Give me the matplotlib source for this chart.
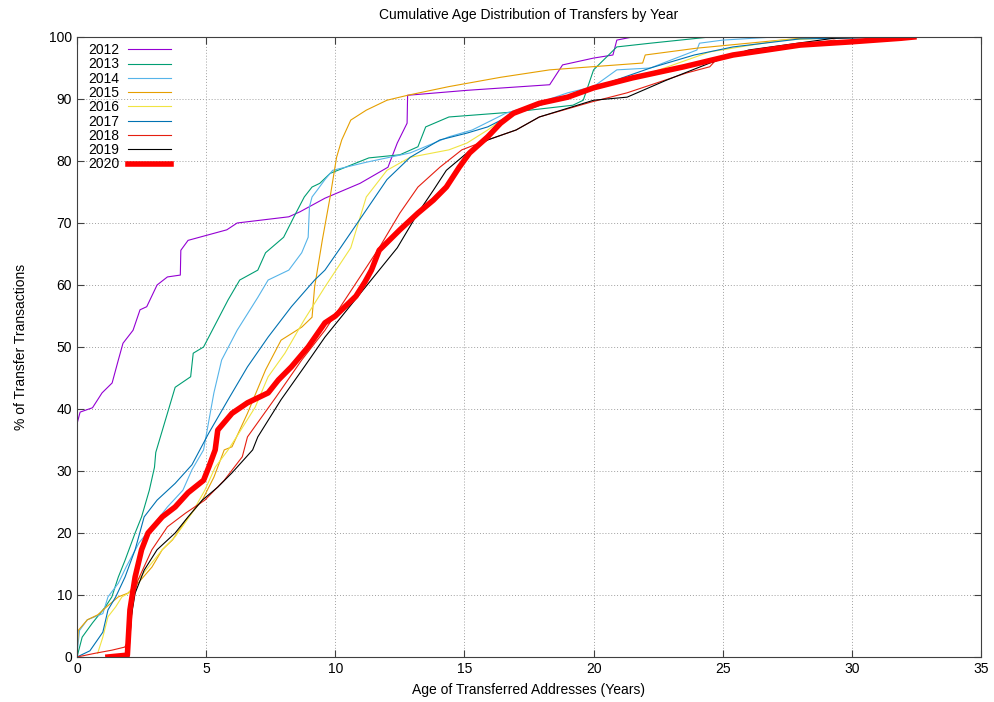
import matplotlib
matplotlib.use('Agg')
import matplotlib.pyplot as plt

plt.rcParams['font.family'] = ['Liberation Sans', 'DejaVu Sans']

# age (years), cumulative % for each year's transfers
x2012 = [0, 0.12, 0.6, 0.97, 1.36, 1.6, 1.78, 2.17, 2.44, 2.7, 3.1, 3.5, 4.0, 4.02, 4.3, 5.8, 6.2, 8.2, 8.63, 9.6, 10.96, 12.04, 12.4, 12.78, 12.8, 15.1, 18.3, 18.8, 20.0, 20.75, 20.9, 21.5]
y2012 = [37.6, 39.5, 40.2, 42.6, 44.2, 47.9, 50.6, 52.7, 56.0, 56.5, 60.0, 61.3, 61.6, 65.6, 67.2, 68.9, 70.0, 71.0, 71.8, 74.0, 76.4, 79.0, 82.9, 86.1, 90.6, 91.4, 92.3, 95.5, 96.6, 97.1, 99.5, 100]

x2013 = [0, 0.2, 0.6, 1.1, 1.35, 1.6, 1.86, 2.25, 2.5, 2.8, 3.0, 3.05, 3.8, 4.4, 4.5, 4.9, 5.3, 5.85, 6.3, 7.0, 7.3, 8.0, 8.4, 8.8, 9.1, 9.4, 9.8, 11.3, 12.5, 13.2, 13.5, 14.4, 16.9, 19.2, 19.6, 20.0, 20.9, 22.2, 24.5]
y2013 = [0, 3.2, 5.5, 8.1, 9.7, 12.9, 15.6, 20.0, 22.6, 26.9, 30.6, 33.0, 43.5, 45.2, 49.0, 50.0, 53.2, 57.6, 60.8, 62.4, 65.2, 67.7, 71.0, 74.2, 75.8, 76.4, 78.0, 80.5, 81.0, 82.3, 85.5, 87.1, 87.9, 89.0, 89.8, 94.7, 98.4, 99.0, 100]

x2014 = [0, 0.1, 0.4, 1.0, 1.2, 1.6, 1.9, 2.4, 2.9, 3.5, 4.1, 4.45, 4.9, 5.3, 5.6, 6.2, 7.0, 7.4, 8.2, 8.7, 8.95, 9.0, 9.1, 9.3, 9.6, 9.9, 11.2, 12.9, 14.4, 15.3, 16.6, 17.4, 19.0, 20.0, 20.9, 22.2, 24.0, 24.1, 25.0, 27.0]
y2014 = [0.5, 4.3, 6.0, 7.0, 9.7, 11.9, 14.5, 18.4, 21.0, 24.2, 26.9, 30.2, 33.4, 42.6, 47.9, 52.7, 58.0, 60.8, 62.4, 65.2, 67.7, 72.6, 74.2, 75.3, 77.0, 78.5, 79.8, 81.3, 83.9, 85.0, 87.7, 88.7, 91.0, 92.0, 94.7, 95.0, 97.9, 99.0, 99.5, 100]

x2015 = [0, 0.05, 0.4, 0.8, 1.15, 1.6, 1.97, 2.36, 2.9, 3.3, 3.7, 4.2, 4.85, 5.3, 5.7, 6.0, 6.6, 7.3, 7.9, 8.7, 9.1, 9.2, 9.5, 9.8, 10.05, 10.25, 10.6, 11.2, 12.0, 12.8, 14.4, 16.4, 18.3, 21.9, 22.0, 24.0, 28.0, 29.5]
y2015 = [0.5, 4.3, 6.0, 6.8, 8.1, 9.7, 10.3, 11.9, 14.5, 17.3, 18.9, 22.0, 25.3, 29.0, 33.4, 33.9, 39.3, 46.3, 51.1, 53.2, 54.8, 59.7, 67.3, 74.2, 80.6, 83.4, 86.6, 88.2, 89.8, 90.6, 92.0, 93.5, 94.7, 95.8, 97.1, 98.2, 99.8, 100]

x2016 = [0.8, 1.0, 1.2, 1.5, 1.74, 2.0, 2.36, 2.9, 3.3, 3.8, 4.45, 4.95, 5.35, 5.85, 6.1, 6.9, 7.4, 8.05, 8.8, 9.6, 10.6, 11.2, 12.0, 12.9, 14.4, 15.1, 15.9, 16.6, 18.3, 19.9, 22.2, 24.5, 27.3, 30.0]
y2016 = [0.6, 3.2, 6.5, 8.1, 9.7, 10.3, 12.4, 15.2, 17.3, 19.4, 23.2, 26.9, 30.6, 33.4, 35.0, 40.3, 45.2, 49.0, 54.4, 59.7, 66.0, 74.2, 78.5, 80.6, 81.8, 82.9, 85.0, 87.1, 89.8, 91.5, 94.2, 97.6, 99.5, 100]

x2017 = [0, 0.5, 1.0, 1.2, 1.5, 1.86, 2.25, 2.6, 3.1, 3.8, 4.45, 5.1, 5.85, 6.6, 7.4, 8.3, 9.2, 9.6, 10.2, 11.2, 12.0, 12.9, 14.05, 15.1, 15.9, 16.8, 18.3, 20.0, 22.2, 23.9, 25.4, 28.0, 32.5]
y2017 = [0, 1.0, 4.0, 7.6, 9.7, 12.9, 17.3, 22.6, 25.3, 28.0, 31.0, 36.1, 41.5, 46.8, 51.6, 56.5, 60.8, 62.4, 66.0, 72.1, 77.0, 80.6, 83.4, 84.5, 85.5, 87.4, 89.5, 91.8, 95.0, 97.1, 98.4, 99.7, 100]

x2018 = [0, 0.7, 1.35, 1.85, 2.05, 2.17, 2.36, 2.9, 3.5, 4.2, 4.95, 5.7, 6.4, 6.6, 7.7, 8.7, 9.6, 11.7, 12.5, 13.2, 14.05, 14.9, 15.9, 17.0, 17.9, 19.9, 21.3, 23.6, 24.5, 24.8, 29.3, 30.0, 32.0]
y2018 = [0, 0.6, 1.1, 1.6, 3.2, 9.2, 12.4, 17.3, 21.0, 23.2, 25.3, 28.5, 32.3, 35.5, 41.9, 47.9, 52.7, 66.0, 71.6, 75.8, 79.0, 81.8, 83.4, 85.0, 87.1, 89.5, 91.0, 94.2, 95.2, 96.6, 99.5, 99.0, 100]

x2019 = [2.0, 2.1, 2.25, 2.6, 3.1, 3.8, 4.3, 4.85, 5.45, 6.0, 6.8, 7.0, 7.9, 8.8, 9.6, 12.4, 13.2, 13.8, 14.3, 15.1, 15.9, 17.0, 17.9, 20.0, 21.3, 22.8, 24.5, 26.0, 29.3, 31.0]
y2019 = [0, 6.5, 10.3, 14.0, 17.3, 20.0, 22.6, 25.3, 27.4, 29.7, 33.4, 35.5, 41.5, 46.8, 51.6, 66.0, 71.6, 75.3, 78.5, 81.3, 83.4, 85.0, 87.1, 89.8, 90.3, 93.0, 95.8, 97.9, 99.8, 100]

x2020 = [1.2, 1.95, 2.05, 2.25, 2.5, 2.75, 3.3, 3.8, 4.3, 4.9, 5.1, 5.35, 5.45, 6.0, 6.6, 7.4, 7.8, 8.3, 8.95, 9.6, 10.0, 10.8, 11.15, 11.4, 11.7, 12.5, 13.2, 13.8, 14.3, 14.8, 15.2, 15.9, 16.4, 16.9, 17.9, 19.0, 20.0, 21.5, 23.5, 25.4, 28.0, 29.9, 31.9, 32.4]
y2020 = [0, 0.3, 7.6, 12.9, 17.3, 20.0, 22.6, 24.2, 26.5, 28.5, 30.6, 33.4, 36.6, 39.3, 41.0, 42.6, 44.7, 46.8, 50.0, 53.9, 55.0, 58.2, 60.5, 62.4, 65.6, 68.9, 71.6, 73.7, 75.8, 79.0, 81.3, 83.9, 86.1, 87.7, 89.3, 90.3, 91.8, 93.4, 95.2, 97.1, 98.7, 99.2, 99.8, 100]

series = [
    ('2012', x2012, y2012, '#9400D3', 0.8),
    ('2013', x2013, y2013, '#009E73', 0.8),
    ('2014', x2014, y2014, '#56B4E9', 0.8),
    ('2015', x2015, y2015, '#E69F00', 0.8),
    ('2016', x2016, y2016, '#F0E442', 0.8),
    ('2017', x2017, y2017, '#0072B2', 0.8),
    ('2018', x2018, y2018, '#E51E10', 0.8),
    ('2019', x2019, y2019, '#000000', 0.8),
    ('2020', x2020, y2020, '#FF0000', 4.0),
]

fig = plt.figure(figsize=(9.95, 7.02), dpi=100)
ax = fig.add_axes([77/995, 45/702, 904/995, 620/702])

for name, xs, ys, c, lw in series:
    ax.plot(xs, ys, color=c, lw=lw, label=name)

ax.set_xlim(0, 35)
ax.set_ylim(0, 100)
ax.set_xticks(range(0, 36, 5))
ax.set_yticks(range(0, 101, 10))
ax.grid(True, color='#a0a0a0', linestyle=(0, (1, 2)), lw=0.7)
ax.tick_params(direction='in', top=True, right=True, labelsize=10, length=5, color='#404040')
for s in ax.spines.values():
    s.set_color('#404040')
    s.set_linewidth(0.8)

ax.set_title('Cumulative Age Distribution of Transfers by Year', fontsize=10, pad=13)
ax.set_xlabel('Age of Transferred Addresses (Years)', fontsize=10, labelpad=5)
ax.set_ylabel('% of Transfer Transactions', fontsize=10, labelpad=15)

ax.legend(loc='upper left', bbox_to_anchor=(0.006, 0.999), frameon=False,
          markerfirst=False, fontsize=10, handlelength=3.1, labelspacing=0.02,
          borderaxespad=0, handletextpad=0.65)

fig.savefig('out.png', dpi=100)
